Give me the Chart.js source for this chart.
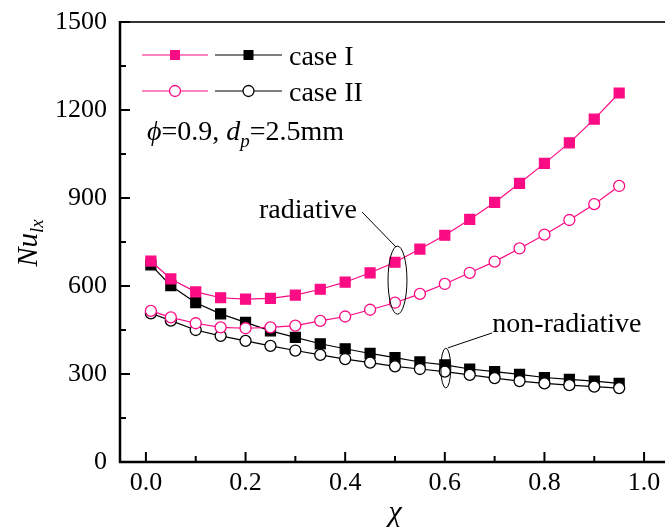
<!DOCTYPE html>
<html>
<head>
<meta charset="utf-8">
<script src="https://cdn.jsdelivr.net/npm/chart.js@4/dist/chart.umd.min.js"></script>
<style>
  html, body { margin: 0; padding: 0; background: #fff; }
  #wrap { width: 665px; height: 528px; }
</style>
</head>
<body>
<div id="wrap"><canvas id="nu-chart" width="665" height="528"></canvas></div>
<script>
const chi = [0.01, 0.05, 0.10, 0.15, 0.20, 0.25, 0.30, 0.35, 0.40, 0.45,
             0.50, 0.55, 0.60, 0.65, 0.70, 0.75, 0.80, 0.85, 0.90, 0.95];
const radCaseI = [685, 624, 580, 560, 555, 558, 569, 589, 613, 645,
                  681, 726, 773, 827, 885, 950, 1018, 1088, 1169, 1258];
const nonRadCaseI = [672, 601, 543, 505, 476, 447, 425, 403, 386, 370,
                     356, 341, 331, 317, 308, 299, 288, 282, 276, 268];
const radCaseII = [515, 493, 473, 459, 456, 459, 465, 481, 496, 519,
                   543, 573, 607, 645, 683, 728, 775, 825, 879, 941];
const nonRadCaseII = [507, 482, 450, 430, 413, 396, 380, 365, 351, 339,
                      326, 317, 308, 297, 286, 276, 268, 262, 257, 252];
const xTickVals = [0, 0.2, 0.4, 0.6, 0.8, 1.0];
const yTickVals = [0, 300, 600, 900, 1200, 1500];

const PINK = "rgb(250,12,132)";
const FONT = "Liberation Serif";

function pts(ys) {
  return ys.map((y, i) => ({ x: chi[i], y: y }));
}

function series(ys, color, style, order) {
  return {
    data: pts(ys),
    borderColor: color,
    borderWidth: 1.2,
    pointStyle: style,
    pointRadius: style === "rect" ? 7 : 5.5,
    pointBorderWidth: 1.3,
    pointBorderColor: color,
    pointBackgroundColor: style === "rect" ? color : "#fff",
    tension: 0,
    order: order
  };
}

// frame, inward ticks, legend, labels, annotations
const decor = {
  id: "decor",
  afterDatasetsDraw(chart) {
    const ctx = chart.ctx;
    const xs = chart.scales.x, ys = chart.scales.y;
    const L = chart.chartArea.left, T = chart.chartArea.top;
    const R = chart.width, B = chart.chartArea.bottom;
    ctx.save();

    // top line
    ctx.strokeStyle = "#333";
    ctx.lineWidth = 2;
    ctx.beginPath(); ctx.moveTo(L, T); ctx.lineTo(R, T); ctx.stroke();

    // axes
    ctx.strokeStyle = "#000";
    ctx.lineWidth = 2.5;
    ctx.beginPath(); ctx.moveTo(L, T - 1); ctx.lineTo(L, B); ctx.lineTo(R, B); ctx.stroke();

    ctx.lineWidth = 2;
    for (let v = 0; v <= 1.0001; v += 0.1) {
      const px = xs.getPixelForValue(v);
      const len = Math.round(v * 10) % 2 === 0 ? 10 : 6;
      ctx.beginPath(); ctx.moveTo(px, B); ctx.lineTo(px, B - len); ctx.stroke();
    }
    for (let v = 0; v <= 1500; v += 150) {
      const py = ys.getPixelForValue(v);
      const len = v % 300 === 0 ? 10 : 6;
      ctx.beginPath(); ctx.moveTo(L, py); ctx.lineTo(L + len, py); ctx.stroke();
    }

    // legend
    const rows = [
      { y: 55, style: "rect", text: "case I" },
      { y: 91, style: "circle", text: "case II" }
    ];
    rows.forEach(r => {
      [[142, 208, PINK], [215, 282, "#000"]].forEach(([a, b, c]) => {
        ctx.strokeStyle = c; ctx.lineWidth = 1.2;
        ctx.beginPath(); ctx.moveTo(a, r.y); ctx.lineTo(b, r.y); ctx.stroke();
        const m = (a + b) / 2;
        if (r.style === "rect") {
          ctx.fillStyle = c; ctx.fillRect(m - 5, r.y - 5, 10, 10);
        } else {
          ctx.fillStyle = "#fff"; ctx.lineWidth = 1.3;
          ctx.beginPath(); ctx.arc(m, r.y, 5.5, 0, Math.PI * 2); ctx.fill(); ctx.stroke();
        }
      });
      ctx.fillStyle = "#000";
      ctx.font = "28px " + FONT;
      ctx.textBaseline = "alphabetic"; ctx.textAlign = "left";
      ctx.fillText(r.text, 289, r.y + 10);
    });

    // condition text
    let x = 147; const base = 140;
    const parts = [
      ["italic 28px " + FONT, "\u03d5", 0],
      ["28px " + FONT, "=0.9, ", 0],
      ["italic 28px " + FONT, "d", 0],
      ["italic 19px " + FONT, "p", 7],
      ["28px " + FONT, "=2.5mm", 0]
    ];
    parts.forEach(([f, s, dy]) => {
      ctx.font = f; ctx.fillText(s, x, base + dy);
      x += ctx.measureText(s).width;
    });

    // annotations in data units
    const P = (vx, vy) => [xs.getPixelForValue(vx), ys.getPixelForValue(vy)];
    ctx.strokeStyle = "#000"; ctx.lineWidth = 1;
    const ell = (cx, cy, rx, ry) => {
      const [px, py] = P(cx, cy);
      const rpx = Math.abs(xs.getPixelForValue(cx + rx) - px);
      const rpy = Math.abs(ys.getPixelForValue(cy + ry) - py);
      ctx.beginPath(); ctx.ellipse(px, py, rpx, rpy, 0, 0, Math.PI * 2); ctx.stroke();
    };
    const seg = (x1, y1, x2, y2) => {
      const a = P(x1, y1), b = P(x2, y2);
      ctx.beginPath(); ctx.moveTo(a[0], a[1]); ctx.lineTo(b[0], b[1]); ctx.stroke();
    };
    ell(0.505, 620, 0.019, 116);
    seg(0.434, 852, 0.502, 733);
    ell(0.602, 320, 0.01, 68);
    seg(0.695, 440, 0.606, 389);
    ctx.font = "28px " + FONT;
    let p = P(0.227, 832); ctx.fillText("radiative", p[0], p[1]);
    p = P(0.695, 443); ctx.fillText("non-radiative", p[0], p[1]);

    // axis titles
    ctx.font = "italic 30px " + FONT;
    ctx.textAlign = "center"; ctx.textBaseline = "alphabetic";
    ctx.fillText("\u03c7", xs.getPixelForValue(0.5), 521);

    ctx.save();
    ctx.translate(37, 243);
    ctx.rotate(-Math.PI / 2);
    ctx.textAlign = "left";
    ctx.font = "italic 29px " + FONT;
    const w1 = ctx.measureText("Nu").width;
    ctx.font = "italic 19px " + FONT;
    const w2 = ctx.measureText("lx").width;
    const sx = -(w1 + w2) / 2;
    ctx.font = "italic 29px " + FONT;
    ctx.fillText("Nu", sx, 0);
    ctx.font = "italic 19px " + FONT;
    ctx.fillText("lx", sx + w1, 6);
    ctx.restore();

    ctx.restore();
  }
};

new Chart(document.getElementById("nu-chart"), {
  type: "line",
  data: {
    datasets: [
      series(nonRadCaseI, "#000", "rect", 4),
      series(nonRadCaseII, "#000", "circle", 3),
      series(radCaseI, PINK, "rect", 2),
      series(radCaseII, PINK, "circle", 1)
    ]
  },
  options: {
    responsive: false,
    animation: false,
    layout: { autoPadding: false, padding: { top: 22, right: 0, left: 0, bottom: 0 } },
    plugins: { legend: { display: false }, tooltip: { enabled: false } },
    scales: {
      x: {
        type: "linear",
        min: -0.052, max: 1.042,
        afterFit: s => { s.height = 66; s.paddingLeft = 0; s.paddingRight = 0; },
        afterBuildTicks: s => { s.ticks = xTickVals.map(v => ({ value: v })); },
        grid: { display: false, drawTicks: false },
        border: { display: false },
        ticks: {
          padding: 6, color: "#000",
          font: { family: FONT, size: 26 },
          callback: v => v.toFixed(1),
          maxRotation: 0, autoSkip: false
        }
      },
      y: {
        type: "linear",
        min: 0, max: 1500,
        afterFit: s => { s.width = 120; s.paddingTop = 0; s.paddingBottom = 0; },
        afterBuildTicks: s => { s.ticks = yTickVals.map(v => ({ value: v })); },
        grid: { display: false, drawTicks: false },
        border: { display: false },
        ticks: {
          padding: 13, color: "#000",
          font: { family: FONT, size: 26 },
          callback: v => String(v)
        }
      }
    }
  },
  plugins: [decor]
});
</script>
</body>
</html>
